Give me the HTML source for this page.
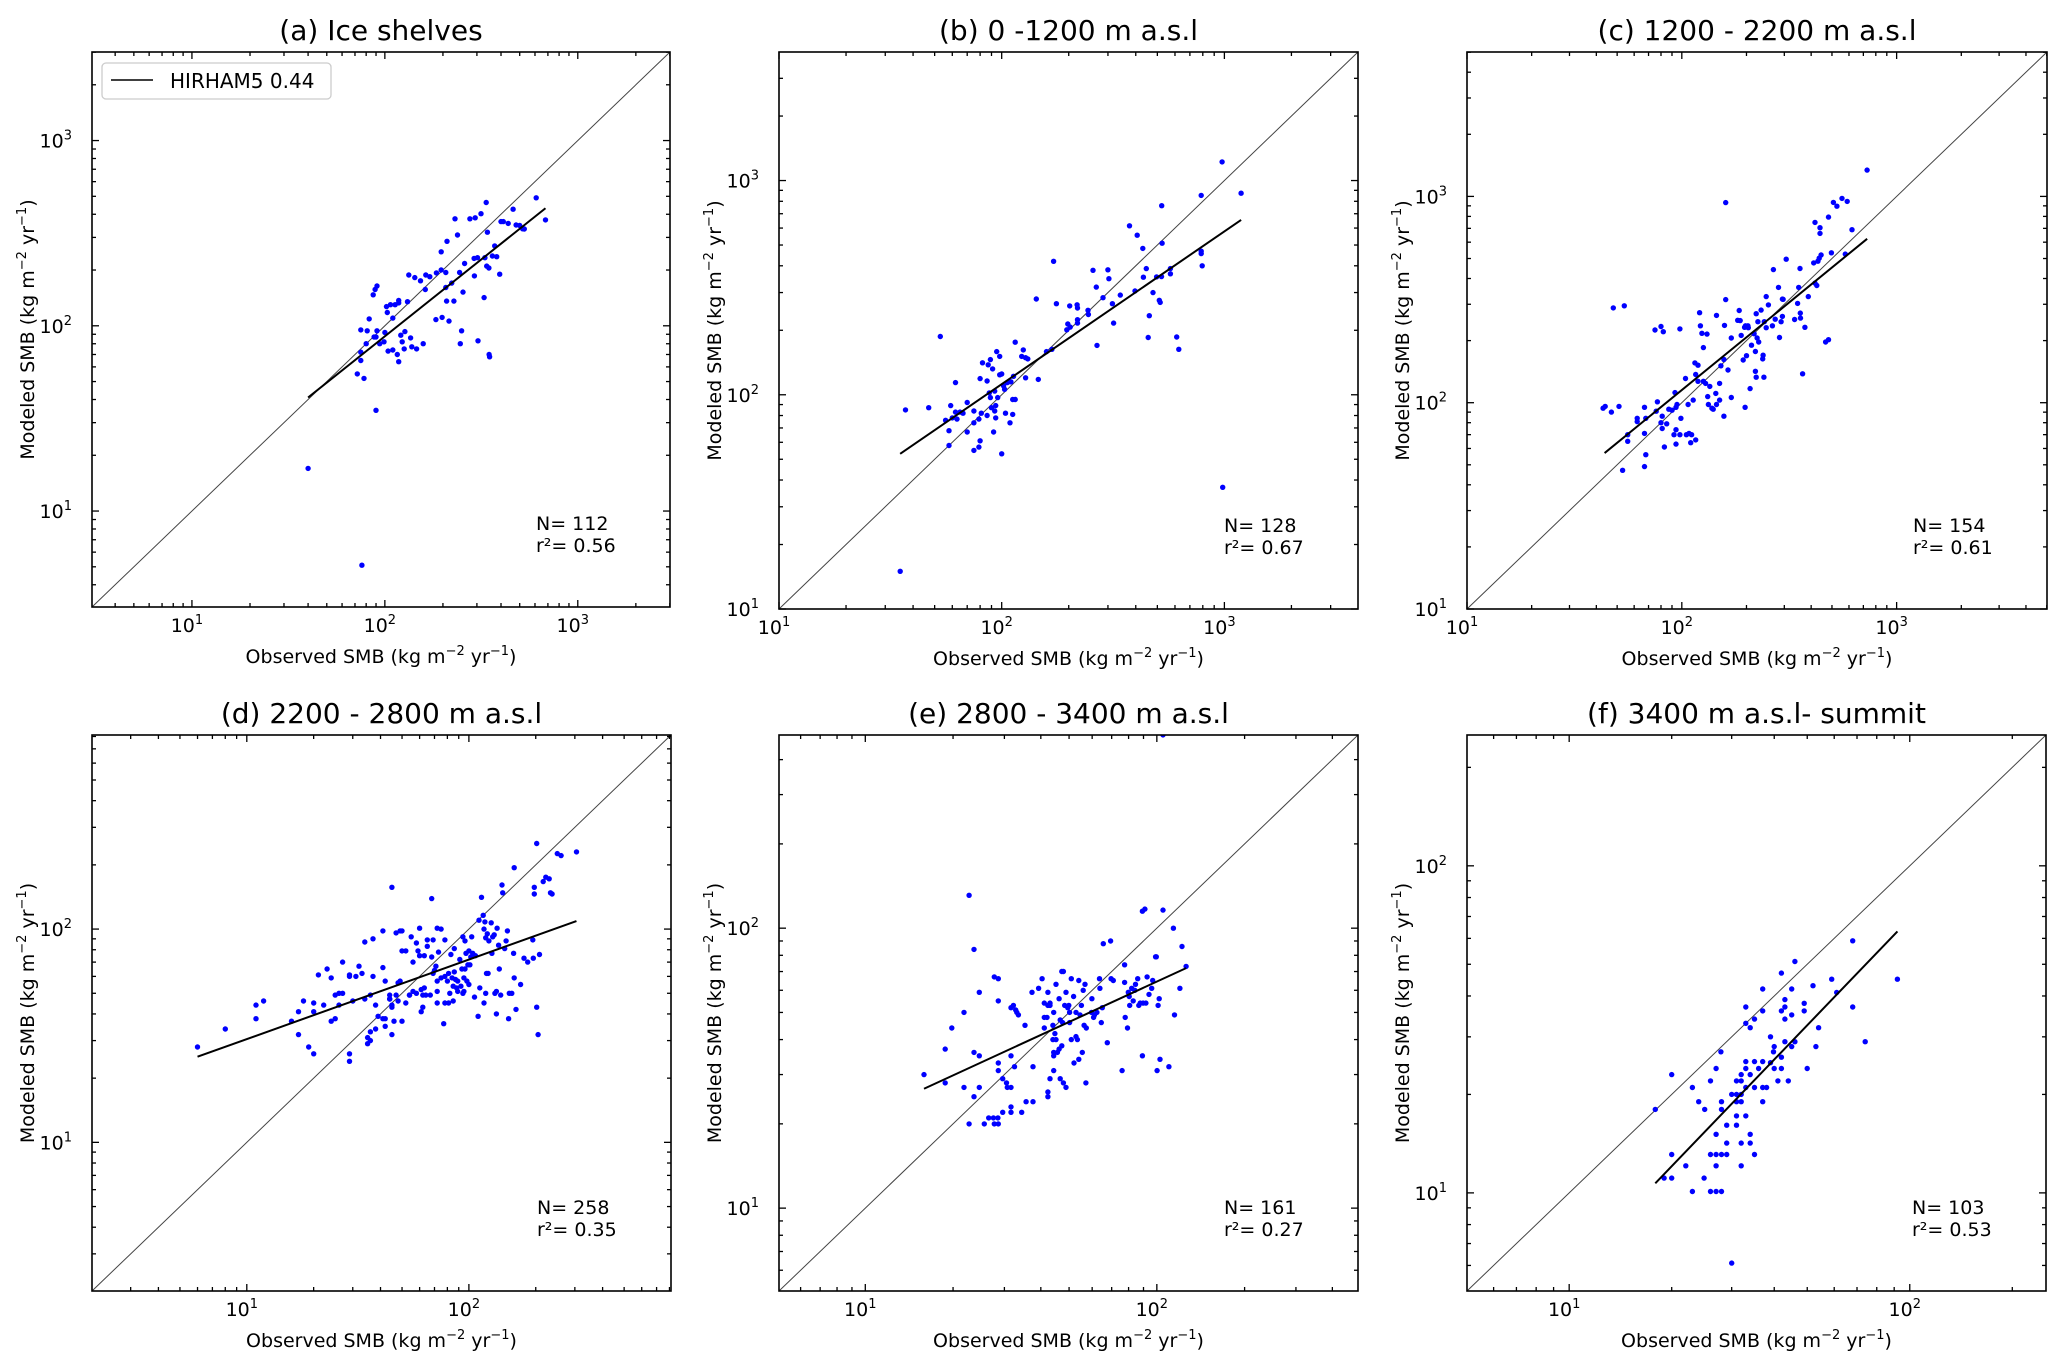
<!DOCTYPE html>
<html><head><meta charset="utf-8"><style>
html,body{margin:0;padding:0;background:#fff;}
svg{display:block;font-family:"DejaVu Sans","Liberation Sans",sans-serif;}
</style></head><body>
<svg id="fig" width="2067" height="1368" viewBox="0 0 2067 1368" xmlns="http://www.w3.org/2000/svg"></svg>
<script>
// ---- data: [observed, modeled] per panel ----
const ptsA=[[40,17],[76,5.1],[90,35],[72,55],[78,52],[75,95],[75,72],[75,65],[80,80],[81,94],[83,109],[87,147],[89,157],[91,164],[88,87],[90,87],[91,94],[94,80],[99,82],[100,92],[102,127],[103,118],[107,130],[110,110],[113,130],[118,137],[118,133],[104,73],[110,74],[116,70],[118,64],[121,89],[123,82],[126,75],[127,93],[133,188],[131,135],[136,86],[138,77],[146,75],[143,182],[153,175],[158,80],[162,157],[163,188],[171,184],[185,193],[184,108],[196,200],[196,251],[198,111],[210,286],[207,161],[207,194],[209,136],[215,106],[222,170],[228,136],[231,378],[238,309],[244,194],[246,80],[250,94],[254,152],[259,217],[276,378],[290,231],[291,186],[294,383],[304,83],[302,233],[315,403],[327,142],[330,233],[335,463],[337,210],[340,320],[346,205],[347,70],[349,68],[361,238],[371,270],[380,236],[394,190],[400,365],[411,365],[436,357],[462,426],[479,350],[500,348],[518,334],[528,333],[609,491],[680,373]];
const ptsB=[[35,15],[37,85],[47,87],[53,187],[56,76],[58,68],[58,58],[59,89],[60,78],[62,114],[62,83],[63,77],[65,83],[67,82],[70,92],[70,67],[75,74],[75,84],[75,55],[79,57],[79,77],[80,119],[80,61],[81,82],[82,141],[86,116],[86,80],[87,138],[88,102],[89,146],[89,97],[90,87],[91,132],[92,67],[93,104],[93,84],[94,89],[94,78],[95,159],[96,97],[98,151],[98,124],[100,53],[100,125],[102,110],[103,106],[104,82],[106,114],[109,74],[110,115],[112,95],[112,81],[113,122],[115,176],[115,95],[123,151],[125,162],[128,149],[128,120],[131,147],[143,280],[146,118],[159,159],[168,163],[171,420],[176,266],[196,201],[198,214],[202,260],[203,207],[218,263],[219,254],[219,224],[219,216],[244,248],[245,237],[257,381],[266,318],[268,170],[285,284],[300,383],[303,348],[314,266],[318,216],[341,292],[375,615],[397,305],[406,556],[430,482],[433,354],[446,388],[455,185],[460,234],[478,300],[496,355],[510,276],[515,270],[522,356],[523,763],[525,510],[572,388],[572,367],[611,186],[624,163],[787,852],[787,468],[787,456],[795,400],[977,1222],[983,37],[1189,873]];
const ptsC=[[43,94],[44,96],[47,90],[48,288],[51,96],[53,47],[54,295],[56,70],[56,65],[62,81],[62,84],[67,71],[67,95],[68,84],[68,56],[67,49],[75,225],[76,91],[77,101],[80,234],[80,80],[81,75],[81,86],[82,221],[83,61],[85,79],[87,93],[90,92],[93,112],[94,95],[94,74],[92,70],[94,63],[95,98],[98,70],[98,228],[99,84],[104,131],[105,70],[107,98],[108,71],[110,64],[111,70],[113,103],[115,156],[116,66],[116,137],[119,152],[119,127],[121,273],[122,236],[124,217],[126,185],[126,127],[129,124],[131,215],[132,107],[133,98],[135,120],[138,94],[140,93],[145,265],[144,111],[145,98],[150,103],[150,124],[152,151],[157,86],[157,162],[158,237],[160,316],[160,933],[164,144],[170,206],[170,106],[182,251],[185,280],[187,250],[189,212],[193,161],[196,232],[197,95],[200,169],[198,236],[203,236],[204,231],[208,117],[211,190],[217,216],[220,142],[220,177],[222,133],[222,270],[224,206],[226,247],[228,197],[234,281],[238,163],[239,170],[241,133],[242,247],[247,327],[247,231],[253,298],[264,236],[267,442],[272,254],[282,362],[285,207],[290,247],[294,318],[296,317],[294,262],[306,496],[335,253],[346,303],[350,362],[355,447],[356,272],[357,257],[365,138],[374,232],[388,327],[411,476],[417,380],[417,748],[425,370],[430,485],[436,502],[440,662],[440,705],[445,520],[467,197],[482,202],[482,794],[497,533],[508,935],[527,896],[557,978],[589,946],[577,525],[620,690],[729,1341]];
const ptsD=[[6,28],[8,34],[11,44],[11,38],[11.9,46],[15.9,37],[17.1,32],[17.1,41],[18,46],[19,28],[20,45],[20,41],[20,26],[21,61],[22.2,44],[23,65],[24,59],[24,37],[25,38],[25,49],[26,44],[26,50],[27,70],[27,50],[29,61],[29,60],[29,26],[29,24],[30,46],[31,60],[32,67],[33,62],[34,87],[34,47],[35,31],[35,29],[36,49],[36,30],[36,33],[37,60],[37,90],[38,34],[38,44],[39,39],[41,98],[41,66],[41,38],[42,35],[42,57],[42,38],[44,47],[44,49],[44,47],[45,157],[45,32],[45,44],[45,43],[46,37],[47,96],[47,49],[48,46],[48,56],[49,57],[49,98],[50,37],[50,79],[50,98],[52,79],[52,45],[54,49],[54,49],[55,92],[56,70],[56,51],[58,86],[58,50],[59,79],[60,75],[60,101],[61,52],[61,41],[62,49],[62,43],[63,75],[63,53],[64,49],[65,83],[65,89],[67,49],[68,74],[68,139],[69,89],[69,62],[70,64],[71,67],[72,51],[72,101],[72,45],[72,57],[73,78],[75,100],[75,59],[77,36],[78,45],[78,89],[78,60],[80,57],[81,62],[81,45],[82,50],[83,76],[84,59],[85,54],[85,46],[86,81],[86,63],[87,58],[88,53],[89,57],[89,51],[91,72],[92,54],[93,65],[94,92],[94,50],[95,59],[95,51],[96,88],[96,65],[97,77],[98,57],[99,68],[100,55],[100,79],[101,68],[102,74],[103,92],[104,77],[106,48],[107,75],[110,39],[111,110],[112,53],[114,141],[116,116],[117,100],[117,45],[118,108],[119,91],[119,50],[120,62],[121,95],[122,62],[123,88],[126,107],[127,77],[128,92],[130,94],[131,50],[133,40],[133,51],[134,101],[136,84],[137,65],[139,49],[141,161],[142,148],[145,81],[147,88],[149,98],[151,38],[152,50],[156,50],[160,194],[159,77],[160,59],[163,42],[171,55],[177,73],[184,70],[194,89],[195,73],[197,146],[197,157],[202,252],[202,43],[205,32],[208,76],[216,167],[222,175],[230,172],[233,148],[237,146],[250,226],[260,221],[305,230]];
const ptsE=[[15.9,30],[18.8,37],[18.8,28],[19.8,44],[21.8,50],[21.8,27],[22.7,131],[22.7,20],[23.6,84],[23.6,36],[23.6,25],[24.6,59],[24.6,35],[24.6,27],[25.6,20],[26.5,21],[27.5,21],[27.7,67],[27.7,20],[28.5,21],[28.6,66],[28.6,55],[28.6,33],[28.6,31],[28.6,20],[29.6,29],[29.6,22],[30.5,28],[30.7,27],[31.6,52],[31.6,35],[31.6,27],[31.6,23],[31.6,22],[32.2,53],[32.5,32],[32.8,51],[33.1,50],[33.5,49],[34.4,22],[35.3,45],[35.6,24],[37.3,59],[37.6,32],[37.6,24],[39.3,61],[40.4,66],[41.1,54],[41.1,48],[41.1,44],[42,48],[42.3,59],[42.3,53],[42.3,26],[42.3,25],[43,54],[43,53],[43,29],[44,45],[44,40],[44.3,50],[44.3,36],[44.3,35],[44.3,31],[44.7,42],[45.1,40],[45.1,63],[45.6,36],[46.2,56],[46.2,37],[46.6,47],[46.6,29],[47.2,70],[47.2,38],[47.5,46],[47.8,70],[47.8,28],[48.3,53],[48.8,59],[48.8,27],[49.5,52],[49.9,53],[50.2,50],[50.2,46],[50.9,66],[50.9,40],[51.8,57],[52,33],[52.8,50],[52.8,41],[53.4,40],[54,65],[54,34],[54.5,49],[55.1,53],[55.5,36],[55.9,60],[56.3,45],[56.7,63],[57.1,28],[57.3,44],[59.7,50],[59.9,56],[60.7,48],[61.1,49],[62.3,50],[63.6,66],[63.8,61],[64.5,46],[65,52],[65.5,88],[67.6,39],[69.4,90],[69.7,66],[70.9,65],[76,31],[77.5,64],[77.5,74],[77.9,48],[79.3,44],[79.8,59],[80.4,57],[80.7,53],[82,61],[83,55],[84,60],[84.5,63],[86,66],[86.7,53],[87.7,54],[89.2,115],[89.2,35],[89.7,54],[91,117],[91.7,54],[92.6,67],[94,58],[96,61],[96.8,65],[99,79],[99.6,79],[100.2,31],[101,53],[101.9,56],[102.5,34],[105,116],[110,32],[114,100],[115,49],[120,61],[122,86],[126,73],[105,490]];
const ptsF=[[17.9,18],[19,11.1],[20,23],[20,13.1],[20,11.1],[22,12.1],[23,21],[23,10.1],[24,19],[24.9,11.1],[25,18],[26,22],[26,13.1],[26,10.1],[27,24],[27,15.1],[27,13.1],[27,12.1],[27,10.1],[27.9,27],[28,19],[28,18],[28,13.1],[28,10.1],[29,16.1],[29,14.2],[29,13.1],[30,20],[30,6.1],[31,22],[31,20],[31,19],[31,17.2],[31,16.1],[32,23],[32,22],[32,20],[32,19],[32,14.2],[32,12.1],[33,37],[33,33],[33,25.2],[33,24],[33,21],[33,17.2],[34,32],[34,23],[34,15.1],[34,14.2],[35,34],[35,25.2],[35,21],[35,13.1],[36,24],[37,42],[37,36],[37,25.2],[37,21],[37,19],[38,21],[39,30],[39,25],[39.8,27],[40,28],[40,24],[41,22],[42,47],[42,36],[42,26],[42,24],[43,39],[43,37],[43,34],[43,29],[44,22],[45,35],[45,42],[45,28],[46,51],[46,29],[49,38],[49,36],[50,24],[52,43],[53,28],[54,32],[59,45],[61,41],[68,59],[68,37],[74,29],[92,45]];
// regression line endpoints [obs, mod]
const fitA=[[40,41],[680,431]];
const fitB=[[35,53],[1189,655]];
const fitC=[[43.7,57],[729,623]];
const fitD=[[6,25.2],[305,109]];
const fitE=[[15.9,26.7],[126,72]];
const fitF=[[17.9,10.7],[92,63]];
// annotations
const nLabels=["N= 112","N= 128","N= 154","N= 258","N= 161","N= 103"];
const r2Labels=["r²= 0.56","r²= 0.67","r²= 0.61","r²= 0.35","r²= 0.27","r²= 0.53"];
const titles=["(a) Ice shelves","(b) 0 -1200 m a.s.l","(c) 1200 - 2200 m a.s.l","(d) 2200 - 2800  m a.s.l","(e) 2800 - 3400 m a.s.l","(f) 3400 m a.s.l- summit"];
// axis domains (log10 min,max) shared by x and y
const domA=[0.482,3.478], domB=[1,3.6], domC=[1,3.7], domD=[0.303,2.91], domE=[0.704,2.69], domF=[0.70,2.40];

const NS="http://www.w3.org/2000/svg";
const svg=document.getElementById('fig');
function mk(tag,attrs,parent){const e=document.createElementNS(NS,tag);for(const k in attrs)e.setAttribute(k,attrs[k]);(parent||svg).appendChild(e);return e;}

const boxes=[[92,52,670,607],[779,52,1358,609],[1467,52,2047,609],[92,735,671,1291],[779,735,1358,1291],[1467,735,2046,1291]];
const panels=[[ptsA,fitA,domA],[ptsB,fitB,domB],[ptsC,fitC,domC],[ptsD,fitD,domD],[ptsE,fitE,domE],[ptsF,fitF,domF]];
const letters=['a','b','c','d','e','f'];

panels.forEach((p,i)=>{
  const [pts,fit,dom]=p; const [L,T,R,B]=boxes[i];
  const g=mk('g',{});
  
  
  const sx=v=>L+(Math.log10(v)-dom[0])/(dom[1]-dom[0])*(R-L);
  const sy=v=>B-(Math.log10(v)-dom[0])/(dom[1]-dom[0])*(B-T);
  const cp=mk('clipPath',{id:'cp'+i},g); mk('rect',{x:L,y:T,width:R-L,height:B-T},cp);
  const d=mk('line',{x1:L,y1:B,x2:R,y2:T,stroke:'#444','stroke-width':1},g);
   
  const pg=mk('g',{'clip-path':'url(#cp'+i+')'},g);
  pts.forEach(q=>{const c=mk('circle',{cx:sx(q[0]).toFixed(1),cy:sy(q[1]).toFixed(1),r:2.7,fill:'#0000ff'},pg);
     });
  const f=mk('line',{x1:sx(fit[0][0]),y1:sy(fit[0][1]),x2:sx(fit[1][0]),y2:sy(fit[1][1]),stroke:'#000','stroke-width':2},g);
   
  const lo=Math.floor(dom[0]), hi=Math.ceil(dom[1]);
  for(let e=lo;e<=hi;e++){for(let m=1;m<10;m++){
    const v=m*Math.pow(10,e), lv=Math.log10(v); if(lv<dom[0]-1e-6||lv>dom[1]+1e-6) continue;
    const len=m===1?7:4, x=sx(v), y=sy(v);
    mk('line',{x1:x,y1:B,x2:x,y2:B-len,stroke:'#000','stroke-width':1.3},g);
    mk('line',{x1:x,y1:T,x2:x,y2:T+len,stroke:'#000','stroke-width':1.3},g);
    mk('line',{x1:L,y1:y,x2:L+len,y2:y,stroke:'#000','stroke-width':1.3},g);
    mk('line',{x1:R,y1:y,x2:R-len,y2:y,stroke:'#000','stroke-width':1.3},g);
    if(m===1){
      const xt=mk('text',{x:x-5,y:B+25,'font-size':19,'text-anchor':'middle'},g);
       
      xt.appendChild(document.createTextNode('10'));
      const s1=mk('tspan',{dy:-8,'font-size':13},xt); s1.textContent=String(e);
      const yt=mk('text',{x:L-20,y:y+7,'font-size':19,'text-anchor':'end'},g);
       
      yt.appendChild(document.createTextNode('10'));
      const s2=mk('tspan',{dy:-8,'font-size':13},yt); s2.textContent=String(e);
    }
  }}
  const fr=mk('rect',{x:L,y:T,width:R-L,height:B-T,fill:'none',stroke:'#000','stroke-width':1.6},g);
   
  const cx=(L+R)/2, cy=(T+B)/2;
  const tt=mk('text',{x:cx,y:T-12,'font-size':28,'text-anchor':'middle'},g); tt.textContent=titles[i];
   
  const xl=mk('text',{x:cx,y:B+56,'font-size':19,'text-anchor':'middle'},g);
   
  xl.innerHTML='Observed SMB (kg m<tspan dy="-8" font-size="13">−2</tspan><tspan dy="8"> yr</tspan><tspan dy="-8" font-size="13">−1</tspan><tspan dy="8">)</tspan>';
  const yl=mk('text',{x:0,y:0,'font-size':19,'text-anchor':'middle',transform:'translate('+(L-58)+','+cy+') rotate(-90)'},g);
   
  yl.innerHTML='Modeled SMB (kg m<tspan dy="-8" font-size="13">−2</tspan><tspan dy="8"> yr</tspan><tspan dy="-8" font-size="13">−1</tspan><tspan dy="8">)</tspan>';
  const nt=mk('text',{x:R-134,y:B-77,'font-size':19},g); nt.textContent=nLabels[i];
   
  const rt=mk('text',{x:R-134,y:B-55,'font-size':19},g); rt.textContent=r2Labels[i];
   
});
const lg=mk('g',{});


mk('rect',{x:102,y:63,width:229,height:36,rx:4,fill:'#fff',stroke:'#ccc','stroke-width':1.3},lg);
const ll=mk('line',{x1:111,y1:80,x2:153,y2:80,stroke:'#000','stroke-width':1.6},lg);
 
const lt=mk('text',{x:170,y:88,'font-size':20},lg); lt.textContent='HIRHAM5 0.44';
 
</script>
</body></html>
